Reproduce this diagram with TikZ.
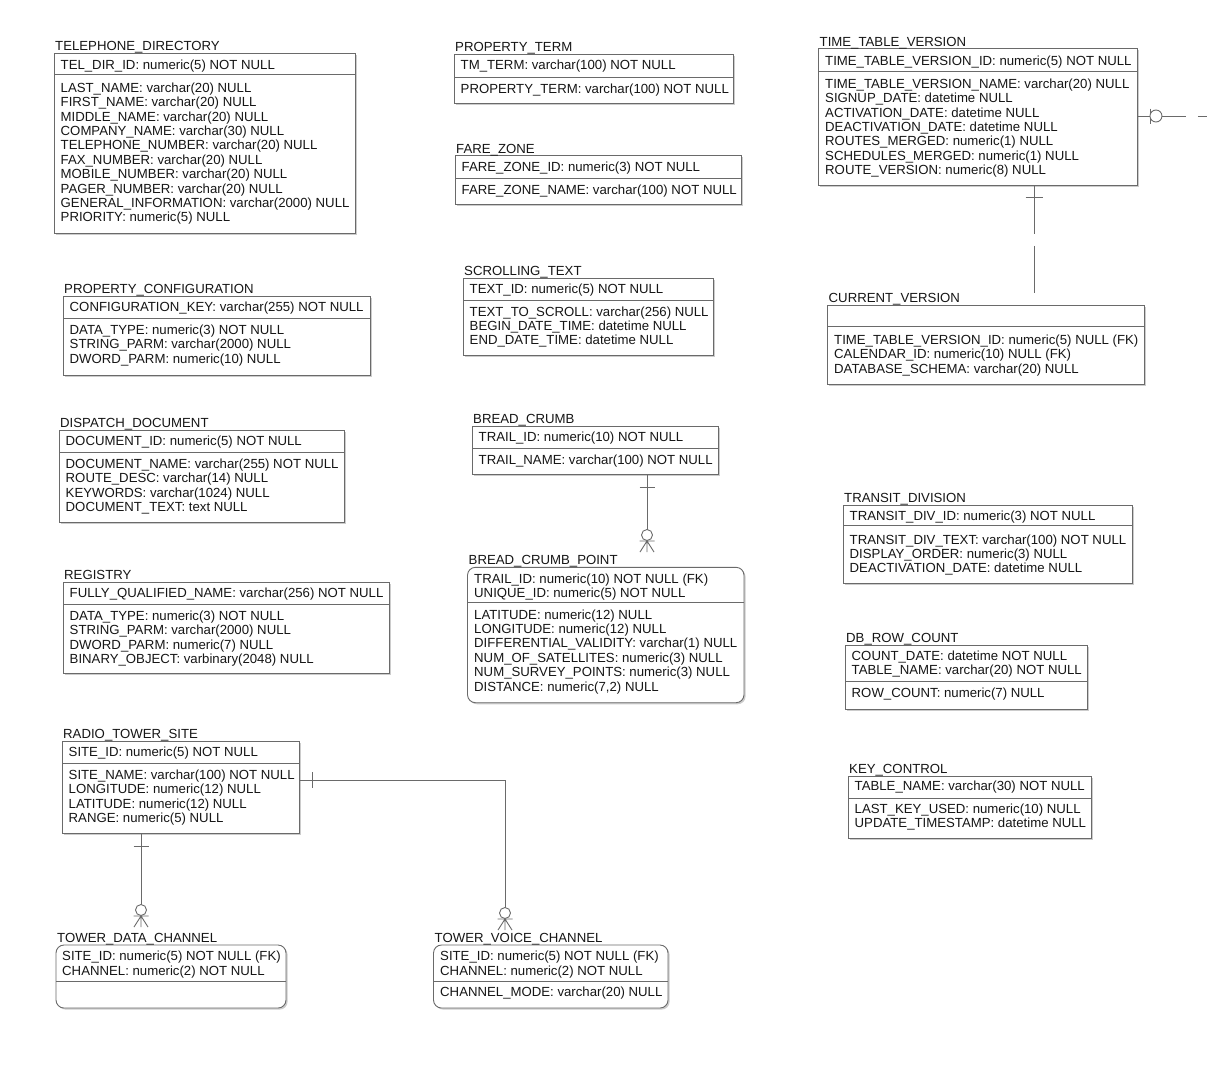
\documentclass[tikz,border=0pt]{standalone}
\usepackage{fontspec}
\setmainfont{Liberation Sans}
\usetikzlibrary{calc,fit,shadows}
\definecolor{inkline}{HTML}{6A6A6A}
\definecolor{inktext}{HTML}{161616}
\tikzset{
  ent/.style={draw=inkline, line width=0.9pt, fill=white, inner sep=0pt,
    drop shadow={shadow xshift=1.6pt, shadow yshift=-1.6pt, fill=black!20, opacity=1}},
  entsq/.style={ent},
  entrd/.style={ent, rounded corners=8pt},
  sepline/.style={draw=inkline, line width=0.9pt},
  lbl/.style={anchor=base west, inner sep=0pt, text=inktext, font=\fontsize{13.2}{14.4}\selectfont},
  conn/.style={draw=inkline, line width=0.9pt},
  nonid/.style={conn, dash pattern=on 48pt off 12pt},
}
% entity box: name, shape style, left, top, right, key separator, bottom, title
\newcommand\erent[8]{%
  \node[fit={(#3,#4) (#5,#7)}, #2] (#1) {};
  \draw[sepline] (#3,#6) -- (#5,#6);
  \node[lbl] (#1-t) at (#3+1,#4-2.5) {#8};
}
% attribute lines: name prefix, x, first baseline, list of lines
\newcommand\erlines[4]{%
  \foreach \s [count=\i] in {#4} {\node[lbl] (#1\i) at (#2,#3+14.4*\i-14.4) {\s};}
}
% zero-or-many end (circle + crow's foot), tips at #1, pointing down
\newcommand\zmany[1]{%
  \draw[conn] (#1) -- ++(0,-11)
    (#1) ++(-7,0) -- ++(7,-11) -- ++(7,11)
    (#1) ++(-7.5,-11) -- ++(15,0);
  \draw[conn, fill=white] ($(#1)+(0,-17)$) circle[radius=5.5pt];
}
\begin{document}
\begin{tikzpicture}[x=1pt,y=-1pt]
\fill[white] (0,0) rectangle (1207,1066);
\useasboundingbox (0,0) rectangle (1207,1066);

% ---------- entities ----------
\erent{td}{entsq}{54}{53}{355}{74}{233}{TELEPHONE\_DIRECTORY}
\erlines{td-k}{60.5}{69}{TEL\_DIR\_ID: numeric(5) NOT NULL}
\erlines{td-a}{60.5}{92.3}{LAST\_NAME: varchar(20) NULL, FIRST\_NAME: varchar(20) NULL,
  MIDDLE\_NAME: varchar(20) NULL, COMPANY\_NAME: varchar(30) NULL,
  TELEPHONE\_NUMBER: varchar(20) NULL, FAX\_NUMBER: varchar(20) NULL,
  MOBILE\_NUMBER: varchar(20) NULL, PAGER\_NUMBER: varchar(20) NULL,
  GENERAL\_INFORMATION: varchar(2000) NULL, PRIORITY: numeric(5) NULL}

\erent{pt}{entsq}{454}{54}{733}{77}{103}{PROPERTY\_TERM}
\erlines{pt-k}{460.5}{69.5}{TM\_TERM: varchar(100) NOT NULL}
\erlines{pt-a}{460.5}{93.3}{PROPERTY\_TERM: varchar(100) NOT NULL}

\erent{fz}{entsq}{455}{155.5}{741}{178}{204}{FARE\_ZONE}
\erlines{fz-k}{461.5}{171.7}{FARE\_ZONE\_ID: numeric(3) NOT NULL}
\erlines{fz-a}{461.5}{194}{FARE\_ZONE\_NAME: varchar(100) NOT NULL}

\erent{ttv}{entsq}{818.5}{48.5}{1137.5}{71.5}{185.5}{TIME\_TABLE\_VERSION}
\erlines{ttv-k}{825}{65}{TIME\_TABLE\_VERSION\_ID: numeric(5) NOT NULL}
\erlines{ttv-a}{825}{88.3}{TIME\_TABLE\_VERSION\_NAME: varchar(20) NULL,
  SIGNUP\_DATE: datetime NULL, ACTIVATION\_DATE: datetime NULL,
  DEACTIVATION\_DATE: datetime NULL, ROUTES\_MERGED: numeric(1) NULL,
  SCHEDULES\_MERGED: numeric(1) NULL, ROUTE\_VERSION: numeric(8) NULL}

\erent{cv}{entsq}{827.5}{305}{1144}{326.7}{384.3}{CURRENT\_VERSION}
\erlines{cv-a}{834}{344.3}{TIME\_TABLE\_VERSION\_ID: numeric(5) NULL (FK),
  CALENDAR\_ID: numeric(10) NULL (FK), DATABASE\_SCHEMA: varchar(20) NULL}

\erent{pc}{entsq}{63}{296}{370}{318}{375}{PROPERTY\_CONFIGURATION}
\erlines{pc-k}{69.5}{311.5}{CONFIGURATION\_KEY: varchar(255) NOT NULL}
\erlines{pc-a}{69.5}{334.5}{DATA\_TYPE: numeric(3) NOT NULL,
  STRING\_PARM: varchar(2000) NULL, DWORD\_PARM: numeric(10) NULL}

\erent{st}{entsq}{463}{278}{713}{300}{355}{SCROLLING\_TEXT}
\erlines{st-k}{469.5}{293.5}{TEXT\_ID: numeric(5) NOT NULL}
\erlines{st-a}{469.5}{316}{TEXT\_TO\_SCROLL: varchar(256) NULL,
  BEGIN\_DATE\_TIME: datetime NULL, END\_DATE\_TIME: datetime NULL}

\erent{bc}{entsq}{472}{426}{718}{448}{474}{BREAD\_CRUMB}
\erlines{bc-k}{478.5}{441.5}{TRAIL\_ID: numeric(10) NOT NULL}
\erlines{bc-a}{478.5}{464.5}{TRAIL\_NAME: varchar(100) NOT NULL}

\erent{bcp}{entrd}{467.5}{567.3}{744}{602.7}{702.7}{BREAD\_CRUMB\_POINT}
\erlines{bcp-k}{474}{583.3}{TRAIL\_ID: numeric(10) NOT NULL (FK),
  UNIQUE\_ID: numeric(5) NOT NULL}
\erlines{bcp-a}{474}{619}{LATITUDE: numeric(12) NULL, LONGITUDE: numeric(12) NULL,
  DIFFERENTIAL\_VALIDITY: varchar(1) NULL, NUM\_OF\_SATELLITES: numeric(3) NULL,
  NUM\_SURVEY\_POINTS: numeric(3) NULL, {DISTANCE: numeric(7,2) NULL}}

\erent{dd}{entsq}{59}{430}{344}{452}{522}{DISPATCH\_DOCUMENT}
\erlines{dd-k}{65.5}{445.5}{DOCUMENT\_ID: numeric(5) NOT NULL}
\erlines{dd-a}{65.5}{468.5}{DOCUMENT\_NAME: varchar(255) NOT NULL,
  ROUTE\_DESC: varchar(14) NULL, KEYWORDS: varchar(1024) NULL,
  DOCUMENT\_TEXT: text NULL}

\erent{reg}{entsq}{63}{582}{389}{604}{673}{REGISTRY}
\erlines{reg-k}{69.5}{597.5}{FULLY\_QUALIFIED\_NAME: varchar(256) NOT NULL}
\erlines{reg-a}{69.5}{620.5}{DATA\_TYPE: numeric(3) NOT NULL,
  STRING\_PARM: varchar(2000) NULL, DWORD\_PARM: numeric(7) NULL,
  BINARY\_OBJECT: varbinary(2048) NULL}

\erent{rts}{entsq}{62}{741}{299}{763}{833}{RADIO\_TOWER\_SITE}
\erlines{rts-k}{68.5}{756.5}{SITE\_ID: numeric(5) NOT NULL}
\erlines{rts-a}{68.5}{779.5}{SITE\_NAME: varchar(100) NOT NULL,
  LONGITUDE: numeric(12) NULL, LATITUDE: numeric(12) NULL,
  RANGE: numeric(5) NULL}

\erent{tdc}{entrd}{56}{945}{286}{981}{1008}{TOWER\_DATA\_CHANNEL}
\erlines{tdc-k}{62}{960.7}{SITE\_ID: numeric(5) NOT NULL (FK),
  CHANNEL: numeric(2) NOT NULL}

\erent{tvc}{entrd}{433.5}{945}{668}{981.5}{1008}{TOWER\_VOICE\_CHANNEL}
\erlines{tvc-k}{440}{960.7}{SITE\_ID: numeric(5) NOT NULL (FK),
  CHANNEL: numeric(2) NOT NULL}
\erlines{tvc-a}{440}{996.7}{CHANNEL\_MODE: varchar(20) NULL}

\erent{trd}{entsq}{843}{505}{1132.5}{525.5}{583}{TRANSIT\_DIVISION}
\erlines{trd-k}{849.5}{520.5}{TRANSIT\_DIV\_ID: numeric(3) NOT NULL}
\erlines{trd-a}{849.5}{544}{TRANSIT\_DIV\_TEXT: varchar(100) NOT NULL,
  DISPLAY\_ORDER: numeric(3) NULL, DEACTIVATION\_DATE: datetime NULL}

\erent{drc}{entsq}{845}{645}{1087}{681}{709}{DB\_ROW\_COUNT}
\erlines{drc-k}{851.5}{660.5}{COUNT\_DATE: datetime NOT NULL,
  TABLE\_NAME: varchar(20) NOT NULL}
\erlines{drc-a}{851.5}{697.5}{ROW\_COUNT: numeric(7) NULL}

\erent{kc}{entsq}{848}{776}{1091}{798}{838}{KEY\_CONTROL}
\erlines{kc-k}{854.5}{790.5}{TABLE\_NAME: varchar(30) NOT NULL}
\erlines{kc-a}{854.5}{813.5}{LAST\_KEY\_USED: numeric(10) NULL,
  UPDATE\_TIMESTAMP: datetime NULL}

% ---------- relationships ----------
% BREAD_CRUMB to BREAD_CRUMB_POINT
\coordinate (bcp-in) at (647,552);
\draw[conn] (bc.south -| bcp-in) -- ($(bcp-in)+(0,-22.5)$);
\draw[conn] ($(bc.south -| bcp-in)+(-7.5,13)$) -- ++(15,0);
\zmany{bcp-in}

% RADIO_TOWER_SITE to TOWER_DATA_CHANNEL
\coordinate (tdc-in) at (141,927);
\draw[conn] (rts.south -| tdc-in) -- ($(tdc-in)+(0,-22.5)$);
\draw[conn] ($(rts.south -| tdc-in)+(-7.5,13)$) -- ++(15,0);
\zmany{tdc-in}

% RADIO_TOWER_SITE to TOWER_VOICE_CHANNEL
\coordinate (tvc-bend) at (505,780);
\coordinate (tvc-in) at (505,930);
\draw[conn] (rts.east |- tvc-bend) -- (tvc-bend) -- ($(tvc-in)+(0,-22.5)$);
\draw[conn] ($(rts.east |- tvc-bend)+(13,-8)$) -- ++(0,16);
\zmany{tvc-in}

% TIME_TABLE_VERSION to CURRENT_VERSION
\coordinate (ttv-cv) at (1034,250);
\draw[nonid] (ttv.south -| ttv-cv) -- (cv-t.north -| ttv-cv);
\draw[conn] ($(ttv.south -| ttv-cv)+(-8.5,11.5)$) -- ++(17,0);

% TIME_TABLE_VERSION to the right
\coordinate (ttv-out) at (1207,116);
\draw[nonid] (ttv.east |- ttv-out) -- (ttv-out);
\draw[conn] ($(ttv.east |- ttv-out)+(12,-7.5)$) -- ++(0,15);
\draw[conn, fill=white] ($(ttv.east |- ttv-out)+(18,0)$) circle[radius=6pt];
\end{tikzpicture}
\end{document}
